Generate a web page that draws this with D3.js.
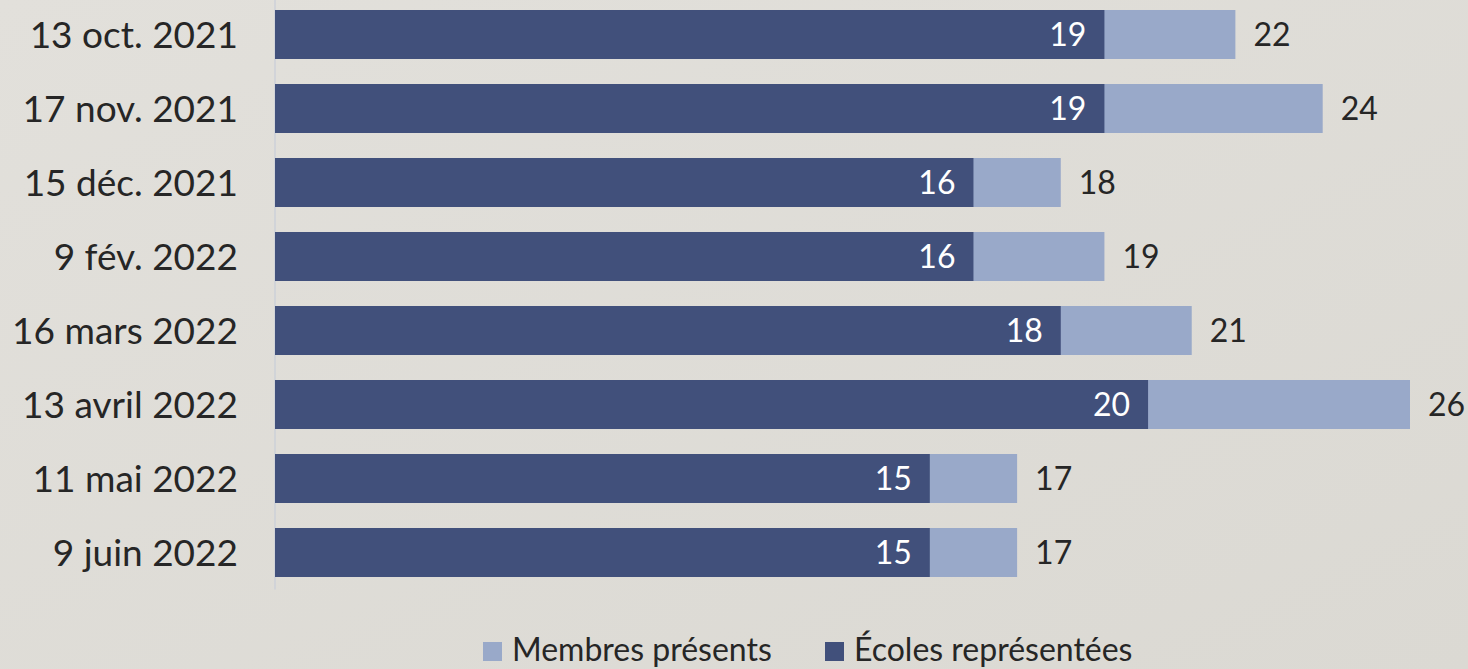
<!DOCTYPE html>
<html>
<head>
<meta charset="utf-8">
<title>Écoles représentées / Membres présents</title>
<script src="https://cdn.jsdelivr.net/npm/d3@7/dist/d3.min.js"></script>
<style>
html, body { margin: 0; padding: 0; }
body { background: #dedcd7; }
text { font-family: Lato, "Open Sans", sans-serif; fill: #262626; }
</style>
</head>
<body>
<div id="chart"></div>
<script>
// data
const dates = ["13 oct. 2021", "17 nov. 2021", "15 déc. 2021", "9 fév. 2022",
               "16 mars 2022", "13 avril 2022", "11 mai 2022", "9 juin 2022"];
const ecoles = [19, 19, 16, 16, 18, 20, 15, 15];   // Écoles représentées
const membres = [22, 24, 18, 19, 21, 26, 17, 17];  // Membres présents
const seriesNames = ["Membres présents", "Écoles représentées"];

const width = 1468, height = 669;
const dark = "#41507b", light = "#99a9c9";

const rows = dates.map((d, i) => ({date: d, ecoles: ecoles[i], membres: membres[i]}));

const svg = d3.select("#chart").append("svg")
    .attr("width", width)
    .attr("height", height);

// soft background
const defs = svg.append("defs");
const grad = defs.append("linearGradient").attr("id", "bg")
    .attr("x1", 0).attr("y1", 0).attr("x2", 1).attr("y2", 1);
grad.append("stop").attr("offset", "0%").attr("stop-color", "#e2e0db");
grad.append("stop").attr("offset", "100%").attr("stop-color", "#dbd9d3");
svg.append("rect").attr("width", width).attr("height", height).attr("fill", "url(#bg)");

const x = d3.scaleLinear().domain([0, 26]).range([275, 1410]);
const y = d3.scaleBand().domain(dates).range([-2.5, 589.5])
    .paddingInner(0.338).paddingOuter(0.169);

// vertical axis line
svg.append("line")
    .attr("x1", x(0)).attr("x2", x(0))
    .attr("y1", y.range()[0]).attr("y2", y.range()[1])
    .attr("stroke", "#cdd0d8").attr("stroke-width", 1.5);

const g = svg.append("g");

// light bars (total members)
g.selectAll("rect.membres")
  .data(rows)
  .join("rect")
    .attr("class", "membres")
    .attr("x", x(0))
    .attr("y", d => y(d.date))
    .attr("width", d => x(d.membres) - x(0))
    .attr("height", y.bandwidth())
    .attr("fill", light);

// dark bars (schools)
g.selectAll("rect.ecoles")
  .data(rows)
  .join("rect")
    .attr("class", "ecoles")
    .attr("x", x(0))
    .attr("y", d => y(d.date))
    .attr("width", d => x(d.ecoles) - x(0))
    .attr("height", y.bandwidth())
    .attr("fill", dark);

// value inside dark bar
g.selectAll("text.vin")
  .data(rows)
  .join("text")
    .attr("class", "vin")
    .attr("x", d => x(d.ecoles) - 18)
    .attr("y", d => y(d.date) + y.bandwidth() / 2)
    .attr("dy", "0.36em")
    .attr("text-anchor", "end")
    .style("font-size", "32px")
    .style("fill", "#ffffff")
    .text(d => d.ecoles);

// value after light bar
g.selectAll("text.vout")
  .data(rows)
  .join("text")
    .attr("class", "vout")
    .attr("x", d => x(d.membres) + 18)
    .attr("y", d => y(d.date) + y.bandwidth() / 2)
    .attr("dy", "0.36em")
    .style("font-size", "32px")
    .text(d => d.membres);

// category labels
g.selectAll("text.cat")
  .data(rows)
  .join("text")
    .attr("class", "cat")
    .attr("x", 238)
    .attr("y", d => y(d.date) + y.bandwidth() / 2)
    .attr("dy", "0.36em")
    .attr("text-anchor", "end")
    .style("font-size", "37px")
    .text(d => d.date);

// legend
const legendItems = [
  {name: seriesNames[0], color: light, x: 483},
  {name: seriesNames[1], color: dark, x: 825}
];
const legend = svg.append("g").selectAll("g")
  .data(legendItems)
  .join("g")
    .attr("transform", d => `translate(${d.x},642)`);
legend.append("rect")
    .attr("width", 19).attr("height", 19)
    .attr("fill", d => d.color);
legend.append("text")
    .attr("x", 29).attr("y", 19)
    .style("font-size", "32px")
    .text(d => d.name);
</script>
</body>
</html>
